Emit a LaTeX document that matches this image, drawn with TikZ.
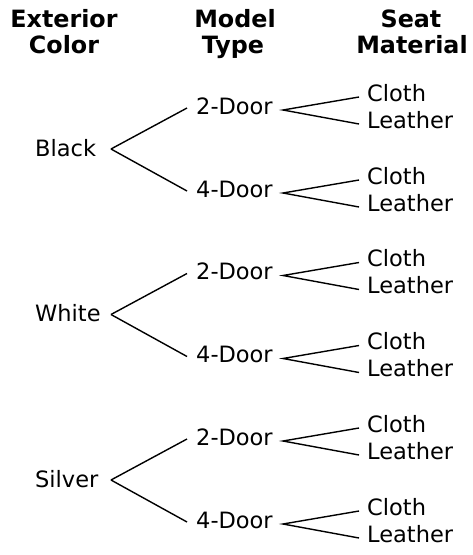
\documentclass[tikz,border=0pt]{standalone}
\usepackage{fontspec}
\setmainfont{DejaVu Sans}
\begin{document}
\begin{tikzpicture}[x=1pt,y=-1pt,
  lbl/.style={inner sep=0pt, anchor=base west, font=\fontsize{22.5}{27}\selectfont},
  hdr/.style={inner sep=0pt, anchor=base, font=\fontsize{23.8}{27}\selectfont\bfseries},
  edge/.style={line width=1.4pt, black}]
\useasboundingbox (0,0) rectangle (473,555);
% headers
\node[hdr] (h1a) at (64,27) {Exterior};
\node[hdr] (h1b) at (64,53) {Color};
\node[hdr] (h2a) at (235,27) {Model};
\node[hdr] (h2b) at (233,53) {Type};
\node[hdr] (h3a) at (411,27) {Seat};
\node[hdr] (h3b) at (412,53) {Material};
\foreach \g/\nm in {0/Black,1/White,2/Silver}{
  \pgfmathsetmacro\cb{156+165.5*\g}
  \node[lbl] (c\g) at (35,\cb) {\nm};
  \foreach \d/\dn in {0/2-Door,1/4-Door}{
    \pgfmathsetmacro\db{114+165.5*\g+83*\d}
    \pgfmathsetmacro\sa{\db-13}
    \pgfmathsetmacro\sb{\db+14}
    \node[lbl] (d\g\d) at (196,\db) {\dn};
    \node[lbl] (sc\g\d) at (367,\sa) {Cloth};
    \node[lbl] (sl\g\d) at (367,\sb) {Leather};
    \draw[edge] ([shift={(76,-7)}]c\g.base west) -- ([shift={(-9,-6)}]d\g\d.base west);
    \draw[edge] ([shift={(-8,-4)}]sc\g\d.base west) -- ([shift={(87,-4)}]d\g\d.base west) -- ([shift={(-8,-4)}]sl\g\d.base west);
  }
}
\end{tikzpicture}
\end{document}
